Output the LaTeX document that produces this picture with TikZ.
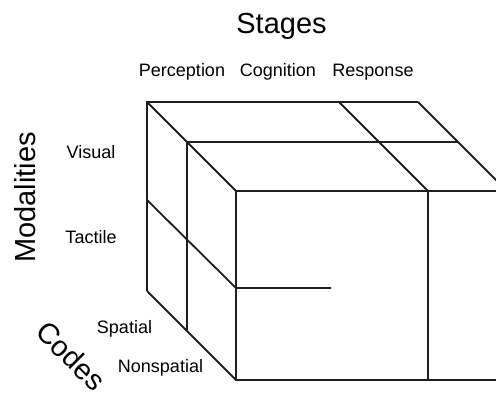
\documentclass[tikz,border=0pt]{standalone}
\usepackage{fontspec}
\setmainfont{Liberation Sans}
\begin{document}
\begin{tikzpicture}[x=1pt,y=-1pt,
  edge/.style={line width=1.8pt, draw=black!88},
  title/.style={font=\fontsize{29}{32}\selectfont, inner sep=0pt},
  lab/.style={font=\fontsize{18}{20}\selectfont, inner sep=0pt}]
\useasboundingbox (0,0) rectangle (496,392);
\begin{scope}
\clip (0,0) rectangle (496,392);
% corners
\coordinate (b1) at (147,102);
\coordinate (b2) at (418,102);
\coordinate (b3) at (147,291);
\coordinate (m1) at (187,142);
\coordinate (m2) at (458,142);
\coordinate (m3) at (187,330);
\coordinate (f1) at (236,191);
\coordinate (f2) at (507,191);
\coordinate (f3) at (236,380);
\coordinate (f4) at (507,380);
\coordinate (t1) at (339,102);
\coordinate (t2) at (428,191);
\coordinate (t3) at (428,380);
\coordinate (l1) at (147,200);
\coordinate (l2) at (236,288);
\coordinate (l3) at (331,288);
% edges
\draw[edge] (b3) -- (b1) -- (b2);
\draw[edge] (b1) -- (f1);
\draw[edge] (b2) -- (f2);
\draw[edge] (b3) -- (f3);
\draw[edge] (m1) -- (m2);
\draw[edge] (m1) -- (m3);
\draw[edge] (t1) -- (t2);
\draw[edge] (f2) -- (f1) -- (f3) -- (f4);
\draw[edge] (t2) -- (t3);
\draw[edge] (l1) -- (l2) -- (l3);
\end{scope}
% texts
\node[title, anchor=base] (stages) at (281.5,33.5) {Stages};
\node[lab, anchor=base] (perc) at (182,76.7) {Perception};
\node[lab, anchor=base] (cogn) at (278,76.7) {Cognition};
\node[lab, anchor=base] (resp) at (373,76.7) {Response};
\node[title, rotate=90] (moda) at (25,197.5) {Modalities};
\node[lab] (vis) at (91,152) {Visual};
\node[lab] (tac) at (91,237) {Tactile};
\node[lab, anchor=base] (spa) at (124.5,333) {Spatial};
\node[lab, anchor=base] (nons) at (160.5,372.7) {Nonspatial};
\node[title, rotate=-45] (codes) at (71,356) {Codes};
\end{tikzpicture}
\end{document}
